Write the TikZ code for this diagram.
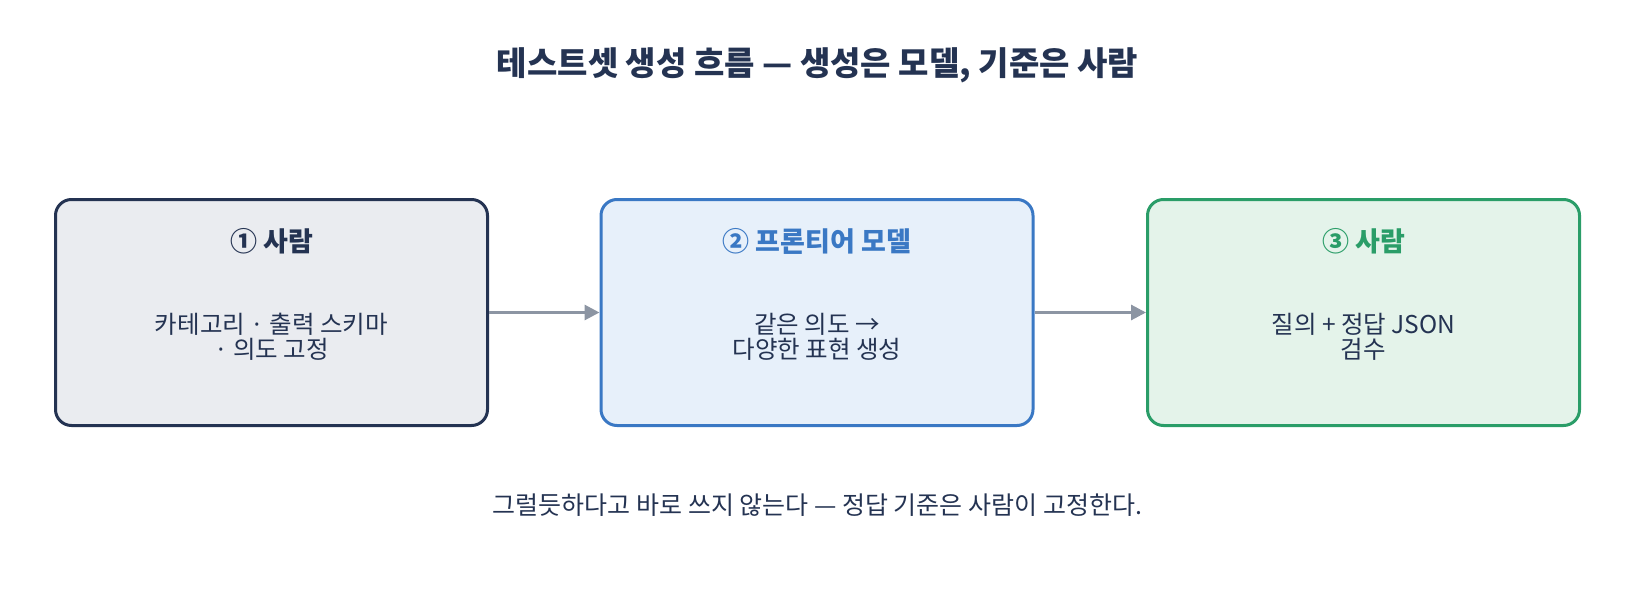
\documentclass[tikz,border=0pt]{standalone}
\usepackage{fontspec}
\setmainfont{Noto Sans CJK KR}
\usetikzlibrary{arrows.meta}

\definecolor{ink}{HTML}{243352}
\definecolor{humanfill}{HTML}{EAECF0}
\definecolor{modelline}{HTML}{3A78C4}
\definecolor{modelfill}{HTML}{E7F0FA}
\definecolor{checkline}{HTML}{2A9D68}
\definecolor{checkfill}{HTML}{E4F3EA}
\definecolor{flow}{HTML}{8C95A3}

\begin{document}
\begin{tikzpicture}[x=1pt, y=-1pt,
		stage/.style={draw, line width = 3pt, rounded corners = 16pt, minimum width = 432pt, minimum height = 226pt},
		head/.style={font=\fontsize{27}{30}\selectfont\bfseries},
		body/.style={align=center, text=ink, font=\fontsize{24.5}{25}\selectfont},
		flowarrow/.style={draw=flow, line width = 3pt, -{Triangle[length=15pt, width=15pt]}}]
		\useasboundingbox (0,0) rectangle (1635,615);

		\node[font=\fontsize{33}{36}\selectfont\bfseries, text=ink] at (817.5,65) (title) {테스트셋 생성 흐름 — 생성은 모델, 기준은 사람};

		\node[stage, draw=ink, fill=humanfill] at (271.5,312.5) (human) {};
		\node[stage, draw=modelline, fill=modelfill] at (817,312.5) (model) {};
		\node[stage, draw=checkline, fill=checkfill] at (1363.5,312.5) (check) {};

		\node[head, text=ink] at (271.5,241) (humanhead) {① 사람};
		\node[head, text=modelline] at (817,241) (modelhead) {② 프론티어 모델};
		\node[head, text=checkline] at (1363.5,241) (checkhead) {③ 사람};

		\node[body] at (271.5,337) (humantext) {카테고리 · 출력 스키마\\· 의도 고정};
		\node[body] at (817,337) (modeltext) {같은 의도 →\\다양한 표현 생성};
		\node[body] at (1363.5,337) (checktext) {질의 + 정답 JSON\\검수};

		\draw[flowarrow] (human.east) -- (model.west);
		\draw[flowarrow] (model.east) -- (check.west);

		\node[font=\fontsize{25}{28}\selectfont, text=ink] at (817.5,505) (note) {그럴듯하다고 바로 쓰지 않는다 — 정답 기준은 사람이 고정한다.};
	\end{tikzpicture}
\end{document}
